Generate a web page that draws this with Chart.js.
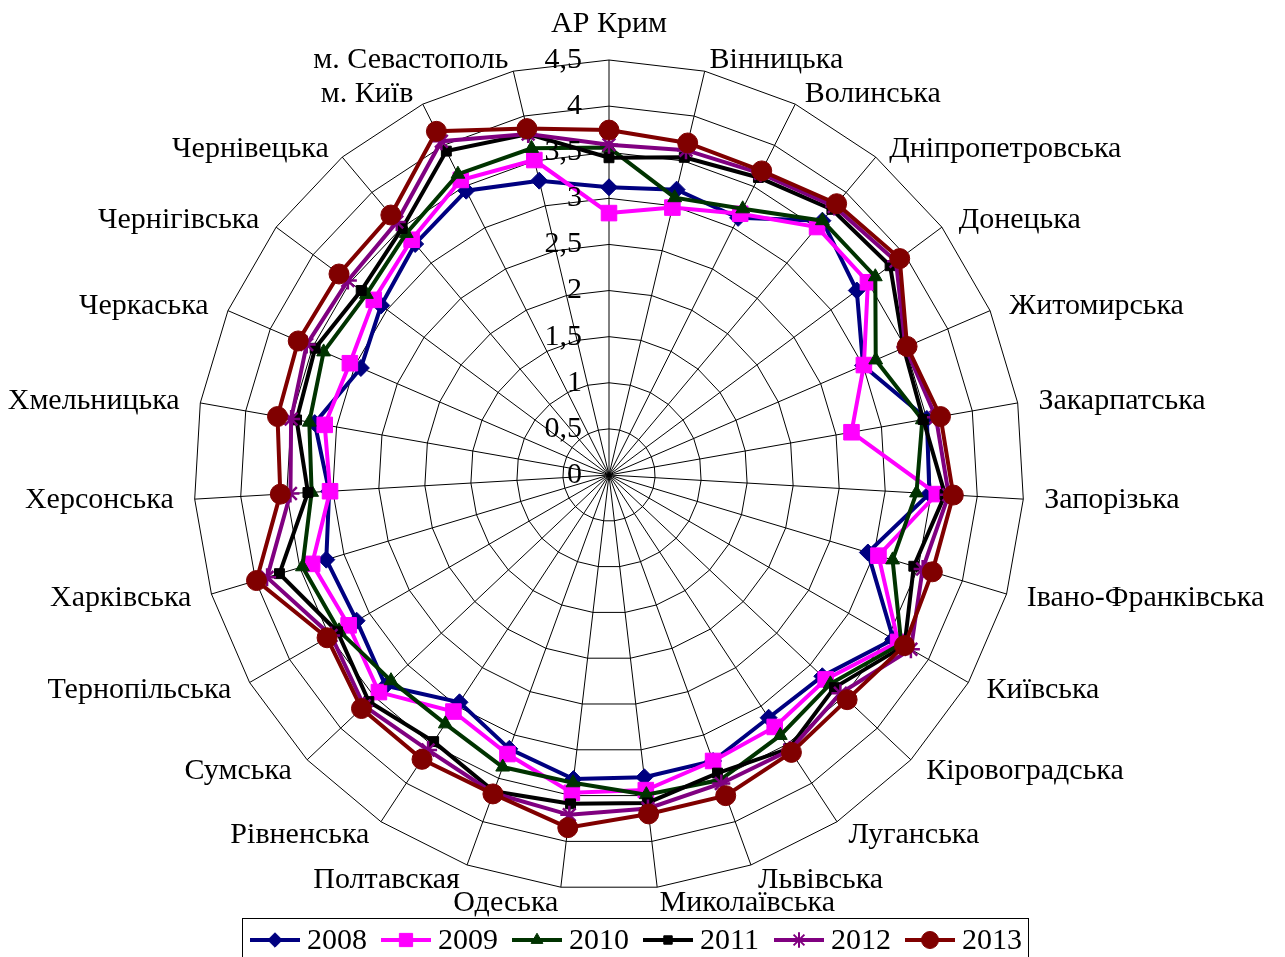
<!DOCTYPE html>
<html>
<head>
<meta charset="utf-8">
<script src="https://cdn.jsdelivr.net/npm/chart.js@4/dist/chart.umd.min.js"></script>
<style>
  body { margin: 0; background: #fff; }
  #wrap { width: 1285px; height: 957px; }
</style>
</head>
<body>
<div id="wrap"><canvas id="radar" width="1285" height="957"></canvas></div>
<script>
// regions, clockwise from the top
const regions = ['АР Крим','Вінницька','Волинська','Дніпропетровська','Донецька','Житомирська',
  'Закарпатська','Запорізька','Івано-Франківська','Київська','Кіровоградська','Луганська',
  'Львівська','Миколаївська','Одеська','Полтавская','Рівненська','Сумська','Тернопільська',
  'Харківська','Херсонська','Хмельницька','Черкаська','Чернігівська','Чернівецька',
  'м. Київ','м. Севастополь'];

const years = ['2008','2009','2010','2011','2012','2013'];

const v2008 = [3.12,3.18,3.12,3.60,3.35,3.00,3.50,3.48,2.93,3.56,3.18,3.15,3.30,3.30,3.32,3.16,2.95,3.33,3.16,3.20,3.04,3.24,2.93,3.08,3.27,3.45,3.28];
const v2009 = [2.84,2.98,3.17,3.51,3.50,3.01,2.67,3.56,3.05,3.62,3.23,3.27,3.30,3.44,3.47,3.22,3.07,3.43,3.26,3.36,3.03,3.13,3.06,3.18,3.33,3.58,3.51];
const v2010 = [3.55,3.09,3.23,3.60,3.60,3.15,3.45,3.34,3.21,3.66,3.30,3.38,3.52,3.49,3.36,3.37,3.23,3.25,3.38,3.47,3.23,3.30,3.37,3.28,3.42,3.65,3.64];
const v2011 = [3.44,3.54,3.61,3.76,3.80,3.48,3.46,3.65,3.45,3.70,3.36,3.55,3.44,3.58,3.59,3.65,3.46,3.58,3.40,3.73,3.27,3.44,3.47,3.35,3.49,3.93,3.80];
const v2012 = [3.58,3.62,3.66,3.80,3.88,3.50,3.60,3.69,3.55,3.78,3.45,3.57,3.56,3.64,3.71,3.67,3.57,3.65,3.48,3.87,3.46,3.50,3.57,3.53,3.58,4.05,3.80];
const v2013 = [3.74,3.70,3.69,3.84,3.93,3.52,3.65,3.74,3.66,3.70,3.55,3.60,3.70,3.70,3.85,3.68,3.69,3.69,3.53,3.99,3.57,3.65,3.67,3.65,3.68,4.17,3.86];

const tickValues = [0,0.5,1,1.5,2,2.5,3,3.5,4,4.5];
const tickLabels = ['0','0,5','1','1,5','2','2,5','3','3,5','4','4,5'];

const seriesValues = [v2008, v2009, v2010, v2011, v2012, v2013];
const looks = [
  {color:'#000080', point:'rectRot',  radius:8.5},
  {color:'#ff00ff', point:'rect',     radius:11},
  {color:'#003300', point:'triangle', radius:8},
  {color:'#000000', point:'rect',     radius:7},
  {color:'#800080', point:'star',     radius:9},
  {color:'#800000', point:'circle',   radius:10}
];

const FONT = '30px "Liberation Serif", "Times New Roman", serif';

// category names round the web
const pointLabelPlugin = {
  id: 'pointLabelText',
  afterDraw(chart) {
    const s = chart.scales.r, ctx = chart.ctx;
    const R = s.drawingArea + 21;
    ctx.save();
    ctx.font = FONT;
    ctx.fillStyle = '#000';
    ctx.textBaseline = 'middle';
    regions.forEach((name, i) => {
      const p = s.getPointPosition(i, R);
      const th = p.angle + Math.PI / 2;
      const sn = Math.sin(th), cs = Math.cos(th);
      let y = p.y + (cs > 0 ? 10 * cs : 5 * cs);
      if (Math.abs(sn) < 1e-3) {
        ctx.textAlign = 'center';
        y += cs > 0 ? -25 : 22;
      } else {
        ctx.textAlign = sn > 0 ? 'left' : 'right';
      }
      ctx.fillText(name, p.x, y);
    });
    ctx.restore();
  }
};

// value labels left of the vertical axis
const tickTextPlugin = {
  id: 'tickText',
  afterDatasetsDraw(chart) {
    const s = chart.scales.r, ctx = chart.ctx;
    ctx.save();
    ctx.font = FONT;
    ctx.fillStyle = '#000';
    ctx.textAlign = 'right';
    ctx.textBaseline = 'middle';
    tickValues.forEach((v, i) => {
      ctx.fillText(tickLabels[i], s.xCenter - 27, s.yCenter - s.getDistanceFromCenterForValue(v));
    });
    ctx.restore();
  }
};

// boxed legend at the bottom
const legendBoxPlugin = {
  id: 'legendBox',
  afterDraw(chart) {
    const ctx = chart.ctx;
    const y = 940;
    ctx.save();
    ctx.strokeStyle = '#000';
    ctx.lineWidth = 1;
    ctx.strokeRect(242.5, 918.5, 786, 60);
    ctx.font = FONT;
    ctx.textAlign = 'left';
    ctx.textBaseline = 'middle';
    chart.data.datasets.forEach((ds, i) => {
      const x0 = 250 + i * 131;
      ctx.strokeStyle = ds.borderColor;
      ctx.lineWidth = 4;
      ctx.beginPath(); ctx.moveTo(x0, y); ctx.lineTo(x0 + 50, y); ctx.stroke();
      ctx.fillStyle = ds.borderColor;
      ctx.lineWidth = ds.pointStyle === 'star' ? 2 : 1;
      Chart.helpers.drawPoint(ctx, {pointStyle: ds.pointStyle, radius: ds.pointRadius * 0.85, rotation: 0, borderWidth: ctx.lineWidth}, x0 + 25, y);
      ctx.fillStyle = '#000';
      ctx.fillText(ds.label, x0 + 57, y + 1);
    });
    ctx.restore();
  }
};

const datasets = years.map((y, i) => ({
  label: y,
  data: seriesValues[i],
  borderColor: looks[i].color,
  backgroundColor: looks[i].color,
  pointBackgroundColor: looks[i].color,
  pointBorderColor: looks[i].color,
  pointStyle: looks[i].point,
  pointRadius: looks[i].radius,
  pointBorderWidth: looks[i].point === 'star' ? 2.5 : 1,
  borderWidth: 4,
  fill: false,
  tension: 0,
  order: years.length - i
}));

new Chart(document.getElementById('radar'), {
  type: 'radar',
  data: { labels: regions, datasets },
  options: {
    responsive: false,
    animation: false,
    devicePixelRatio: 1,
    layout: { padding: { left: 194, right: 261, top: 60, bottom: 67 } },
    plugins: { legend: { display: false }, tooltip: { enabled: false } },
    scales: {
      r: {
        min: 0, max: 4.5,
        ticks: { stepSize: 0.5, display: false },
        grid: { color: '#000', lineWidth: 1 },
        angleLines: { color: '#000', lineWidth: 1 },
        pointLabels: { display: false }
      }
    }
  },
  plugins: [tickTextPlugin, pointLabelPlugin, legendBoxPlugin]
});
</script>
</body>
</html>
